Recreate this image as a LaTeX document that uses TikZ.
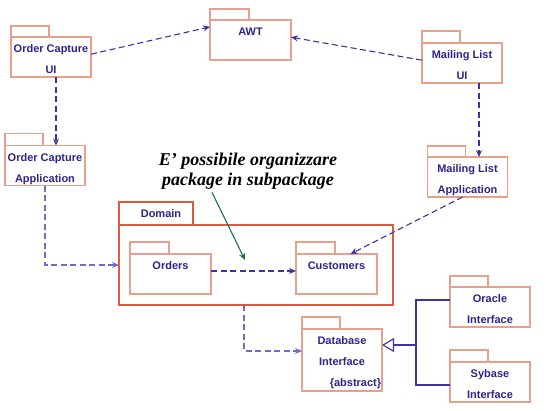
\documentclass[tikz,border=0pt]{standalone}
\usepackage{fontspec}
\setmainfont{Liberation Serif}
\setsansfont{Liberation Sans}
\usetikzlibrary{arrows.meta}

\definecolor{pkgedge}{RGB}{232,160,140}
\definecolor{domedge}{RGB}{222,90,60}
\definecolor{pkgtext}{RGB}{45,35,140}
\definecolor{depline}{RGB}{60,50,160}
\definecolor{deplight}{RGB}{120,105,200}
\definecolor{notegreen}{RGB}{20,120,70}

\begin{document}
\begin{tikzpicture}[x=1pt,y=-1pt,
    pkg/.style={draw=pkgedge, line width=1.2pt, minimum width=80pt, minimum height=40pt, inner sep=0pt, outer sep=0pt},
    tab/.style={draw=pkgedge, line width=1.2pt},
    pkgname/.style={anchor=north, inner sep=0pt, yshift=-7.5pt, align=center, text=pkgtext,
      font=\sffamily\bfseries\fontsize{11}{21}\selectfont},
    dep/.style={draw=depline, line width=1.1pt, dash pattern=on 6pt off 3.5pt, -{Stealth[length=7pt,width=6pt]}},
    deplight/.style={dep, draw=deplight},
    gen/.style={draw=depline, line width=1.1pt}]
    \useasboundingbox (0,0) rectangle (548,410);

    % packages
    \node[pkg] (ocui) at (51,57) {};
    \draw[tab] (ocui.north west) rectangle ++(38,-11);
    \node[pkgname] (ocuiname) at (ocui.north) {Order Capture\\UI};

    \node[pkg] (ocapp) at (45,165.5) {};
    \draw[tab] (ocapp.north west) rectangle ++(38,-12);
    \node[pkgname] (ocappname) at (ocapp.north) {Order Capture\\Application};

    \node[pkg, minimum width=81pt] (awt) at (250.5,40) {};
    \draw[tab] (awt.north west) rectangle ++(39,-11);
    \node[pkgname] (awtname) at (awt.north) {AWT};

    \node[pkg] (mlui) at (462,63) {};
    \draw[tab] (mlui.north west) rectangle ++(38,-12);
    \node[pkgname] (mluiname) at (mlui.north) {Mailing List\\UI};

    \node[pkg] (mlapp) at (467.5,177) {};
    \draw[tab] (mlapp.north west) rectangle ++(38,-11);
    \node[pkgname] (mlappname) at (mlapp.north) {Mailing List\\Application};

    \node[draw=domedge, line width=1.5pt, minimum width=274pt, minimum height=80pt, outer sep=0pt] (domain) at (256,265) {};
    \node[draw=domedge, line width=1.5pt, minimum width=74pt, minimum height=23pt, outer sep=0pt,
      anchor=south west, text=pkgtext, font=\sffamily\bfseries\fontsize{11}{13}\selectfont] (domtab) at (domain.north west) {\hspace*{10pt}Domain};

    \node[pkg, minimum width=81pt] (orders) at (170.5,274) {};
    \draw[tab] (orders.north west) rectangle ++(39,-12);
    \node[pkgname] (ordersname) at (orders.north) {Orders};

    \node[pkg, minimum width=81pt] (customers) at (336.5,274) {};
    \draw[tab] (customers.north west) rectangle ++(39,-12);
    \node[pkgname] (customersname) at (customers.north) {Customers};

    \node[pkg, minimum height=62pt] (dbi) at (342,360) {};
    \draw[tab] (dbi.north west) rectangle ++(38,-12);
    \node[pkgname] (dbiname) at (dbi.north) {Database\\Interface\\\hspace*{27pt}\{abstract\}};

    \node[pkg] (oracle) at (490,307) {};
    \draw[tab] (oracle.north west) rectangle ++(38,-11);
    \node[pkgname] (oraclename) at (oracle.north) {Oracle\\Interface};

    \node[pkg] (sybase) at (490,382) {};
    \draw[tab] (sybase.north west) rectangle ++(38,-12);
    \node[pkgname] (sybasename) at (sybase.north) {Sybase\\Interface};

    % note
    \node[inner sep=0pt, align=center, font=\rmfamily\bfseries\itshape\fontsize{18}{20}\selectfont] (note) at (248,171)
      {E’ possibile organizzare\\package in subpackage};
    \coordinate (target) at (245,260);

    % dependencies
    \draw[dep] (ocui.4) -- (awt.162);
    \draw[dep] (mlui.176) -- (awt.4);
    \draw[dep] ([xshift=5pt]ocui.south) -- ([xshift=11pt]ocapp.north);
    \draw[dep] ([xshift=17pt]mlui.south) -- ([xshift=11.5pt]mlapp.north);
    \draw[deplight] (ocapp.south) |- (domain.west);
    \draw[dep] ([xshift=-5pt]mlapp.south) -- ([xshift=14pt]customers.north);
    \draw[dep] ([yshift=3pt]orders.east) -- ([yshift=3pt]customers.west);
    \draw[deplight] ([xshift=-12pt]domain.south) |- ([yshift=9pt]dbi.west);

    % generalization
    \coordinate (fork) at (416,345);
    \draw[gen] ([yshift=7pt]oracle.west) -| (fork);
    \draw[gen] ([yshift=-3pt]sybase.west) -| (fork);
    \draw[gen, -{Triangle[open,length=12pt,width=14pt]}] (fork) -- ([yshift=15pt]dbi.east);

    \draw[notegreen, line width=1.1pt, -{Stealth[length=7pt,width=6pt]}] ([xshift=-36pt,yshift=-3pt]note.south) -- (target);
\end{tikzpicture}
\end{document}
